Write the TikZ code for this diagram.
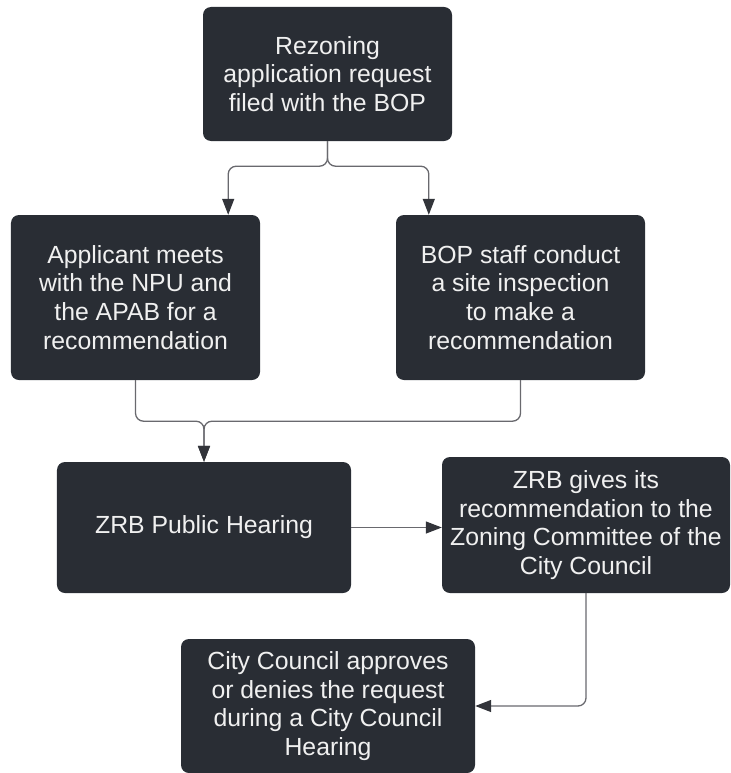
\documentclass[tikz,border=0pt]{standalone}
\usepackage{fontspec}
\setmainfont{Liberation Sans}
\usetikzlibrary{arrows.meta}
\usetikzlibrary{positioning}
\definecolor{boxdark}{RGB}{41,45,52}
\definecolor{boxtext}{RGB}{240,240,240}
\definecolor{linegray}{RGB}{105,105,110}
\definecolor{tipdark}{RGB}{50,52,58}
\tikzset{
    stage/.style={
        rectangle,
        rounded corners=8bp,
        fill=boxdark,
        draw=none,
        text=boxtext,
        align=center,
        inner sep=0pt,
        font=\fontsize{24.8bp}{28.8bp}\selectfont
    },
    flow/.style={
        -{Triangle[length=16bp,width=12bp,color=tipdark]},
        rounded corners=8bp,
        line width=1.3bp,
        draw=linegray
    }
}

\begin{document}
\begin{tikzpicture}[x=1bp, y=-1bp]
\useasboundingbox (0,0) rectangle (731,773);

% 1. Application
\node[stage, minimum width=249bp, minimum height=134bp] (request) at (327.5,74)
    {Rezoning\\application request\\filed with the BOP};

% 2. Recommendations
\node[stage, minimum width=249bp, minimum height=165bp] (npu) at (135.5,297.5)
    {Applicant meets\\with the NPU and\\the APAB for a\\recommendation};
\node[stage, minimum width=249bp, minimum height=165bp] (site) at (520.5,297.5)
    {BOP staff conduct\\a site inspection\\to make a\\recommendation};

% 3. Hearings
\node[stage, minimum width=294bp, minimum height=131bp] (hearing) at (204,527.5)
    {ZRB Public Hearing};
\node[stage, minimum width=288bp, minimum height=136bp] (zrb) at (586,525)
    {ZRB gives its\\recommendation to the\\Zoning Committee of the\\City Council};
\node[stage, minimum width=294bp, minimum height=134bp] (council) at (328,706)
    {City Council approves\\or denies the request\\during a City Council\\Hearing};

% 4. Connections
\draw[flow] (request.south) -- ++(0,25) -| ([xshift=-32bp]npu.north east);
\draw[flow] (request.south) -- ++(0,25) -| ([xshift=33bp]site.north west);
\draw[flow] (npu.south) -- ++(0,41) -| (hearing.north);
\draw[flow] (site.south) -- ++(0,41) -| (hearing.north);
\draw[flow] (hearing.east) -- (hearing.east -| zrb.west);
\draw[flow] (zrb.south) |- (council.east);

\end{tikzpicture}
\end{document}
